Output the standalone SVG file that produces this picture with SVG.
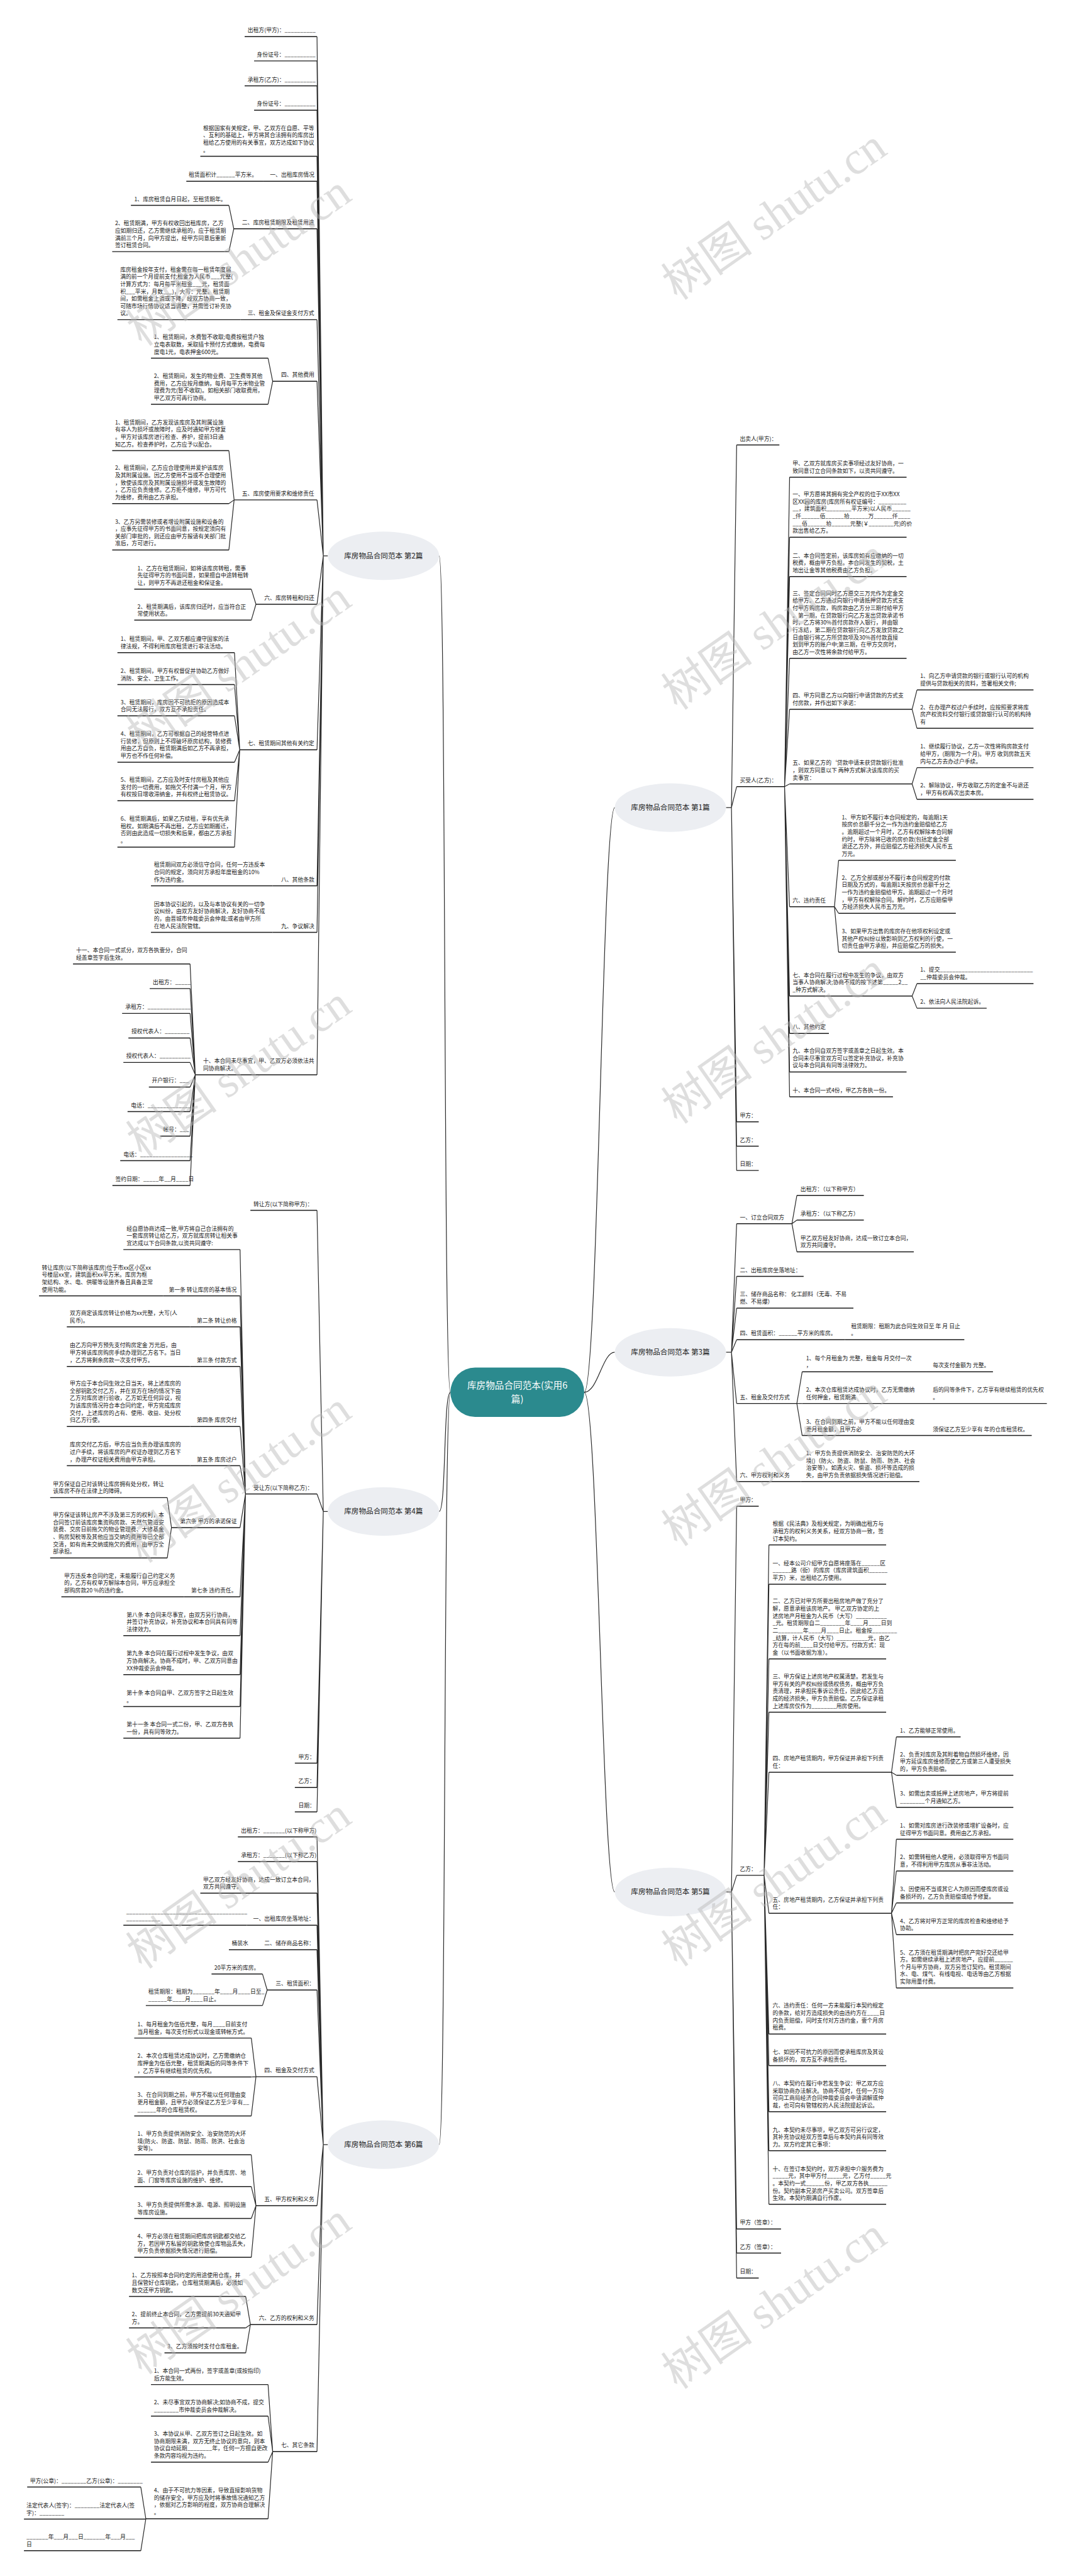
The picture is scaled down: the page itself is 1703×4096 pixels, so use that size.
<svg xmlns="http://www.w3.org/2000/svg" width="1703" height="4096" viewBox="0 0 1703 4096">
<style>
.t{font-family:"Noto Sans CJK SC","Noto Sans",sans-serif;font-size:13.3px;fill:#1a1a1a}
.u{stroke:#1a1a1a;stroke-width:2.2;fill:none}
.c{stroke:#2a2a2a;stroke-width:1.8;fill:none}
.l1{fill:#eceef2}
.l1t{font-family:"Noto Sans CJK SC","Noto Sans",sans-serif;font-size:17.5px;fill:#222;text-anchor:middle}
.root{fill:#2b8a8e}
.roott{font-family:"Noto Sans CJK SC","Noto Sans",sans-serif;font-size:22px;fill:#fff;text-anchor:middle}
.wm{font-family:"Liberation Serif","Noto Sans CJK SC",serif;font-size:110px;fill:#b8b8b8;opacity:.45}
</style>
<rect width="1703" height="4096" fill="#fff"/>
<g transform="scale(0.665)">
<g id="connectors">
<path class="c" d="M1077 3329C1060 3329 1067 1329 1050 1329M1077 3329C1060 3329 1067 3614 1050 3614M1077 3329C1060 3329 1067 5128 1050 5128M1397 3329C1430 3329 1440 1931 1470 1931M1397 3329C1430 3329 1440 3233.4 1470 3233.4M1397 3329C1430 3329 1440 4523.8 1470 4523.8"/>
<path class="c" d="M784 1329H773M773 1329L758 87.5M773 1329L758 145.7M773 1329L758 205.4M773 1329L758 263.6M773 1329L758 373.7M773 1329L758 433.4M773 1329L758 547M773 1329L758 764.5M773 1329L758 911.8M773 1329L758 1195.3M773 1329L758 1444.7M773 1329L758 1793M773 1329L758 2118M773 1329L758 2229.4M773 1329L758 2569.8"/>
<path class="c" d="M559 547L547.3 491M559 547L547.3 601.7M652 911.8L641 856.4M652 911.8L641 966.5M559.8 1195.3L547.3 1077.4M559.8 1195.3L547.3 1204.1M559.8 1195.3L547.3 1314.9M612 1444.7L600.9 1408.8M612 1444.7L600.9 1482.8"/>
<path class="c" d="M573.2 1793L560.7 1560.6M573.2 1793L560.7 1636.9M573.2 1793L560.7 1711.7M573.2 1793L560.7 1822.4M573.2 1793L560.7 1914.8M573.2 1793L560.7 2025.6"/>
<path class="c" d="M467 2569.8L454.5 2305M467 2569.8L454.5 2363.7M467 2569.8L454.5 2423.1M467 2569.8L454.5 2481.8M467 2569.8L454.5 2540.4M467 2569.8L454.5 2599.1M467 2569.8L454.5 2657.8M467 2569.8L454.5 2716.4M467 2569.8L454.5 2775.1M467 2569.8L454.5 2834.5"/>
<path class="c" d="M784 3614H773M773 3614L758 2894M773 3614L758 3572.2M773 3614L758 4215.7M773 3614L758 4274M773 3614L758 4332.3"/>
<path class="c" d="M587 3572.2L574 2987.8M587 3572.2L574 3098.6M587 3572.2L574 3172.6M587 3572.2L574 3267.2M587 3572.2L574 3410.8M587 3572.2L574 3504.6M587 3572.2L574 3652.5M587 3572.2L574 3818M587 3572.2L574 3911M587 3572.2L574 4004M587 3572.2L574 4080.5M587 3572.2L574 4156.1M410 3652.5L400 3581M410 3652.5L400 3725.2"/>
<path class="c" d="M784 5128H773M773 5128L758 4392.2M773 5128L758 4451M773 5128L758 4526.8M773 5128L758 4603.3M773 5128L758 4662M773 5128L758 4758.3M773 5128L758 4965.6M773 5128L758 5274.1M773 5128L758 5558.2M773 5128L758 5861.9"/>
<path class="c" d="M638.8 4758.3L627.7 4720M638.8 4758.3L627.7 4795.3M612 4965.6L600.9 4873.1M612 4965.6L600.9 4966.2M612 4965.6L600.9 5059.3M612 5274.1L600.9 5152.4M612 5274.1L600.9 5228.3M612 5274.1L600.9 5304.5M612 5274.1L600.9 5397.5M598.7 5558.2L587.5 5491.1M598.7 5558.2L587.5 5566.3M598.7 5558.2L587.5 5626M652 5861.9L641 5701.7M652 5861.9L641 5777M652 5861.9L641 5887.1M652 5861.9L641 6022.6M348.7 6022.6L336.7 5946.7M348.7 6022.6L348.3 6023.3M348.7 6022.6L336.7 6099"/>
<path class="c" d="M1736 1931H1749M1749 1931L1761.4 1063.8M1749 1931L1761.4 1880.9M1749 1931L1761.4 2682.4M1749 1931L1761.4 2740.5M1749 1931L1761.4 2798.7"/>
<path class="c" d="M1876 1880.9L1888 1141.1M1876 1880.9L1888 1284.6M1876 1880.9L1888 1378.7M1876 1880.9L1888 1574M1876 1880.9L1888 1696M1876 1880.9L1888 1874.5M1876 1880.9L1888 2167.9M1876 1880.9L1888 2381.6M1876 1880.9L1888 2471.2M1876 1880.9L1888 2563M1876 1880.9L1888 2622.7"/>
<path class="c" d="M2181 1696L2192.6 1649.7M2181 1696L2192.6 1741.4M2181 1874.5L2192.6 1835.5M2181 1874.5L2192.6 1911.2M1995.3 2167.9L2005.2 2057M1995.3 2167.9L2005.2 2183.8M1995.3 2167.9L2005.2 2276.8M2181 2381.6L2192.6 2351.8M2181 2381.6L2192.6 2410.7"/>
<path class="c" d="M1736 3233.4H1749M1749 3233.4L1761.4 2925.8M1749 3233.4L1761.4 3052M1749 3233.4L1761.4 3127.8M1749 3233.4L1761.4 3203.5M1749 3233.4L1761.4 3355.8M1749 3233.4L1761.4 3542.5M1893.7 2925.8L1905.4 2858.4M1893.7 2925.8L1905.4 2917.3M1893.7 2925.8L1905.4 2993.1M1905.4 3355.8L1918.1 3280M1905.4 3355.8L1918.1 3355.8M1905.4 3355.8L1918.1 3432.4"/>
<path class="c" d="M1736 4523.8H1749M1749 4523.8L1761.4 3601.5M1749 4523.8L1761.4 4484M1749 4523.8L1761.4 5329.8M1749 4523.8L1761.4 5387.2M1749 4523.8L1761.4 5447"/>
<path class="c" d="M1827 4484L1838.6 3694M1827 4484L1838.6 3788M1827 4484L1838.6 3966.6M1827 4484L1838.6 4094.1M1827 4484L1838.6 4237.6M1827 4484L1838.6 4574.8M1827 4484L1838.6 4863.4M1827 4484L1838.6 4939.2M1827 4484L1838.6 5049.2M1827 4484L1838.6 5142.4M1827 4484L1838.6 5270.8"/>
<path class="c" d="M2131.7 4237.6L2143.3 4153.1M2131.7 4237.6L2143.3 4244.8M2131.7 4237.6L2143.3 4321.3M2131.7 4574.8L2143.3 4397.9M2131.7 4574.8L2143.3 4473.6M2131.7 4574.8L2143.3 4550.1M2131.7 4574.8L2143.3 4625.8M2131.7 4574.8L2143.3 4753.4"/>
</g>

<g id="root"><rect class="root" x="1077" y="3270" width="320" height="118" rx="59"/><text class="roott" x="1237" y="3320">库房物品合同范本(实用6<tspan x="1237" dy="34">篇)</tspan></text></g>

<g id="L2"><ellipse class="l1" cx="917" cy="1329" rx="133" ry="58"/><text class="l1t" x="917" y="1335">库房物品合同范本 第2篇</text></g>
<g id="L4"><ellipse class="l1" cx="917" cy="3614" rx="133" ry="58"/><text class="l1t" x="917" y="3620">库房物品合同范本 第4篇</text></g>
<g id="L6"><ellipse class="l1" cx="917" cy="5128" rx="133" ry="58"/><text class="l1t" x="917" y="5134">库房物品合同范本 第6篇</text></g>
<g id="R1"><ellipse class="l1" cx="1603" cy="1931" rx="133" ry="58"/><text class="l1t" x="1603" y="1937">库房物品合同范本 第1篇</text></g>
<g id="R3"><ellipse class="l1" cx="1603" cy="3233.4" rx="133" ry="58"/><text class="l1t" x="1603" y="3239.4">库房物品合同范本 第3篇</text></g>
<g id="R5"><ellipse class="l1" cx="1603" cy="4523.8" rx="133" ry="58"/><text class="l1t" x="1603" y="4529.8">库房物品合同范本 第5篇</text></g>

<!-- 第2篇 -->
<g id="n1"><text class="t" x="592" y="77.1">出租方(甲方)：__________</text><path class="u" d="M585 87.5H758"/></g>
<g id="n2"><text class="t" x="614" y="135.3">身份证号：__________</text><path class="u" d="M607.6 145.7H758"/></g>
<g id="n3"><text class="t" x="592" y="195">承租方(乙方)：__________</text><path class="u" d="M585 205.4H758"/></g>
<g id="n4"><text class="t" x="614" y="253.2">身份证号：__________</text><path class="u" d="M607.6 263.6H758"/></g>
<g id="n5"><text class="t" x="485.7" y="310.8">根据国家有关规定，甲、乙双方在自愿、平等<tspan x="485.7" dy="17.5">、互利的基础上，甲方将其合法拥有的库房出</tspan><tspan x="485.7" dy="17.5">租给乙方使用的有关事宜，双方达成如下协议</tspan><tspan x="485.7" dy="17.5">。</tspan></text><path class="u" d="M479 373.7H758"/></g>
<g id="n6"><text class="t" x="645.5" y="423">一、出租库房情况</text><path class="u" d="M630 433.4H758"/></g>
<g id="n6a"><text class="t" x="451" y="423">租赁面积计______平方米。</text><path class="u" d="M445.5 433.4H630"/></g>
<g id="n7"><text class="t" x="578.6" y="536.6">二、库房租赁期限及租赁用途</text><path class="u" d="M559 547H758"/></g>
<g id="n7a"><text class="t" x="321" y="480.6">1、库房租赁自月日起，至租赁期年。</text><path class="u" d="M313 491H547.3"/></g>
<g id="n7b"><text class="t" x="275" y="538.8">2、租赁期满，甲方有权收回出租库房，乙方<tspan x="275" dy="17.5">应如期归还，乙方需继续承租的，应于租赁期</tspan><tspan x="275" dy="17.5">满前三个月，向甲方提出，经甲方同意后重新</tspan><tspan x="275" dy="17.5">签订租赁合同。</tspan></text><path class="u" d="M268.3 601.7H547.3"/></g>
<g id="n8"><text class="t" x="592" y="754.1">三、租金及保证金支付方式</text><path class="u" d="M575 764.5H758"/></g>
<g id="n8a"><text class="t" x="287.5" y="649.1">库房租金按年支付，租金需在每一租赁年度届<tspan x="287.5" dy="17.5">满的前一个月提前支付;租金为人民币___元整(</tspan><tspan x="287.5" dy="17.5">计算方式为：每月每平米租金___元，租赁面</tspan><tspan x="287.5" dy="17.5">积___平米，月数___)，大写：元整。租赁期</tspan><tspan x="287.5" dy="17.5">间，如需租金上调或下降，经双方协商一致，</tspan><tspan x="287.5" dy="17.5">可随市场行情协议适当调整，并需签订补充协</tspan><tspan x="287.5" dy="17.5">议。</tspan></text><path class="u" d="M280.8 764.5H575"/></g>
<g id="n9"><text class="t" x="672" y="901.4">四、其他费用</text><path class="u" d="M652 911.8H758"/></g>
<g id="n9a"><text class="t" x="368" y="811">1、租赁期间，水费暂不收取;电费按租赁户独<tspan x="368" dy="17.5">立电表取数，采取插卡预付方式缴纳，电费每</tspan><tspan x="368" dy="17.5">度电1元，电表押金600元。</tspan></text><path class="u" d="M361 856.4H641"/></g>
<g id="n9b"><text class="t" x="368" y="903.6">2、租赁期间，发生的物业费、卫生费等其他<tspan x="368" dy="17.5">费用，乙方应按月缴纳，每月每平方米物业管</tspan><tspan x="368" dy="17.5">理费为元(暂不收取)。如相关部门收取费用，</tspan><tspan x="368" dy="17.5">甲乙双方可再行协商。</tspan></text><path class="u" d="M361 966.5H641"/></g>
<g id="n10"><text class="t" x="578.6" y="1184.9">五、库房使用要求和维修责任</text><path class="u" d="M559.8 1195.3H758"/></g>
<g id="n10a"><text class="t" x="275" y="1014.5">1、租赁期间，乙方发现该库房及其附属设施<tspan x="275" dy="17.5">有非人为损坏或故障时，应及时通知甲方修复</tspan><tspan x="275" dy="17.5">。甲方对该库房进行检查、养护，提前3日通</tspan><tspan x="275" dy="17.5">知乙方。检查养护时，乙方应予以配合。</tspan></text><path class="u" d="M268.3 1077.4H547.3"/></g>
<g id="n10b"><text class="t" x="275" y="1123.7">2、租赁期间，乙方应合理使用并爱护该库房<tspan x="275" dy="17.5">及其附属设施。因乙方使用不当或不合理使用</tspan><tspan x="275" dy="17.5">，致使该库房及其附属设施损坏或发生故障的</tspan><tspan x="275" dy="17.5">，乙方应负责维修。乙方拒不维修，甲方可代</tspan><tspan x="275" dy="17.5">为维修，费用由乙方承担。</tspan></text><path class="u" d="M268.3 1204.1H547.3"/></g>
<g id="n10c"><text class="t" x="275" y="1252">3、乙方另需装修或者增设附属设施和设备的<tspan x="275" dy="17.5">，应事先征得甲方的书面同意，按规定须向有</tspan><tspan x="275" dy="17.5">关部门审批的，则还应由甲方报请有关部门批</tspan><tspan x="275" dy="17.5">准后，方可进行。</tspan></text><path class="u" d="M268.3 1314.9H547.3"/></g>
<g id="n11"><text class="t" x="632" y="1434.3">六、库房转租和归还</text><path class="u" d="M612 1444.7H758"/></g>
<g id="n11a"><text class="t" x="328.6" y="1363.4">1、乙方在租赁期间，如将该库房转租，需事<tspan x="328.6" dy="17.5">先征得甲方的书面同意，如果擅自中途转租转</tspan><tspan x="328.6" dy="17.5">让，则甲方不再退还租金和保证金。</tspan></text><path class="u" d="M321 1408.8H600.9"/></g>
<g id="n11b"><text class="t" x="328.6" y="1454.9">2、租赁期满后，该库房归还时，应当符合正<tspan x="328.6" dy="17.5">常使用状态。</tspan></text><path class="u" d="M321 1482.8H600.9"/></g>
<g id="n12"><text class="t" x="592" y="1782.6">七、租赁期间其他有关约定</text><path class="u" d="M573.2 1793H758"/></g>
<g id="n12a"><text class="t" x="288.4" y="1532.7">1、租赁期间，甲、乙双方都应遵守国家的法<tspan x="288.4" dy="17.5">律法规，不得利用库房租赁进行非法活动。</tspan></text><path class="u" d="M280.8 1560.6H560.7"/></g>
<g id="n12b"><text class="t" x="288.4" y="1609">2、租赁期间，甲方有权督促并协助乙方做好<tspan x="288.4" dy="17.5">消防、安全、卫生工作。</tspan></text><path class="u" d="M280.8 1636.9H560.7"/></g>
<g id="n12c"><text class="t" x="288.4" y="1683.8">3、租赁期间，库房因不可抗拒的原因造成本<tspan x="288.4" dy="17.5">合同无法履行，双方互不承担责任。</tspan></text><path class="u" d="M280.8 1711.7H560.7"/></g>
<g id="n12d"><text class="t" x="288.4" y="1759.5">4、租赁期间，乙方可根据自己的经营特点进<tspan x="288.4" dy="17.5">行装修，但原则上不得破坏原房结构，装修费</tspan><tspan x="288.4" dy="17.5">用由乙方自负，租赁期满后如乙方不再承担，</tspan><tspan x="288.4" dy="17.5">甲方也不作任何补偿。</tspan></text><path class="u" d="M280.8 1822.4H560.7"/></g>
<g id="n12e"><text class="t" x="288.4" y="1869.4">5、租赁期间，乙方应及时支付房租及其他应<tspan x="288.4" dy="17.5">支付的一切费用，如拖欠不付满一个月，甲方</tspan><tspan x="288.4" dy="17.5">有权按日增收滞纳金，并有权终止租赁协议。</tspan></text><path class="u" d="M280.8 1914.8H560.7"/></g>
<g id="n12f"><text class="t" x="288.4" y="1962.7">6、租赁期满后，如果乙方续租，享有优先承<tspan x="288.4" dy="17.5">租权。如期满后不再出租，乙方应如期搬迁，</tspan><tspan x="288.4" dy="17.5">否则由此造成一切损失和后果，都由乙方承担</tspan><tspan x="288.4" dy="17.5">。</tspan></text><path class="u" d="M280.8 2025.6H560.7"/></g>
<g id="n13"><text class="t" x="672" y="2107.6">八、其他条款</text><path class="u" d="M652 2118H758"/></g>
<g id="n13a"><text class="t" x="368" y="2072.6">租赁期间双方必须信守合同，任何一方违反本<tspan x="368" dy="17.5">合同的规定，须向对方承担年度租金的10%</tspan><tspan x="368" dy="17.5">作为违约金。</tspan></text><path class="u" d="M361 2118H652"/></g>
<g id="n14"><text class="t" x="672" y="2219">九、争议解决</text><path class="u" d="M652 2229.4H758"/></g>
<g id="n14a"><text class="t" x="368" y="2166.5">因本协议引起的，以及与本协议有关的一切争<tspan x="368" dy="17.5">议纠纷，由双方友好协商解决，友好协商不成</tspan><tspan x="368" dy="17.5">的，由晋城市仲裁委员会仲裁;或者由甲方所</tspan><tspan x="368" dy="17.5">在地人民法院管辖。</tspan></text><path class="u" d="M361 2229.4H652"/></g>
<g id="n15"><text class="t" x="485.7" y="2541.9">十、本合同未尽事宜，甲、乙双方必须依法共<tspan x="485.7" dy="17.5">同协商解决。</tspan></text><path class="u" d="M467 2569.8H758"/></g>
<g id="n15a"><text class="t" x="182" y="2277.1">十一、本合同一式贰分，双方各执壹分，合同<tspan x="182" dy="17.5">经盖章签字后生效。</tspan></text><path class="u" d="M174.6 2305H454.5"/></g>
<g id="n15b"><text class="t" x="365.6" y="2353.3">出租方：_____</text><path class="u" d="M358 2363.7H454.5"/></g>
<g id="n15c"><text class="t" x="299.5" y="2412.7">承租方：______________</text><path class="u" d="M292 2423.1H454.5"/></g>
<g id="n15d"><text class="t" x="314.3" y="2471.4">授权代表人：________</text><path class="u" d="M307 2481.8H454.5"/></g>
<g id="n15e"><text class="t" x="301.8" y="2530">授权代表人：__________</text><path class="u" d="M295 2540.4H454.5"/></g>
<g id="n15f"><text class="t" x="363" y="2588.7">开户银行：___</text><path class="u" d="M356 2599.1H454.5"/></g>
<g id="n15g"><text class="t" x="313" y="2647.4">电话：______________</text><path class="u" d="M305 2657.8H454.5"/></g>
<g id="n15h"><text class="t" x="390" y="2706">帐号：___</text><path class="u" d="M383 2716.4H454.5"/></g>
<g id="n15i"><text class="t" x="295" y="2764.7">电话：_________________</text><path class="u" d="M287.5 2775.1H454.5"/></g>
<g id="n15j"><text class="t" x="276" y="2824.1">签约日期：_____年__月____日</text><path class="u" d="M268.8 2834.5H454.5"/></g>

<!-- 第4篇 -->
<g id="m1"><text class="t" x="606" y="2883.6">转让方(以下简称甲方)：</text><path class="u" d="M598.7 2894H758"/></g>
<g id="m2"><text class="t" x="606" y="3561.8">受让方(以下简称乙方)：</text><path class="u" d="M587 3572.2H758"/></g>
<g id="m2a"><text class="t" x="302.7" y="2942.4">经自愿协商达成一致,甲方将自己合法拥有的<tspan x="302.7" dy="17.5">一套库房转让给乙方，双方就库房转让相关事</tspan><tspan x="302.7" dy="17.5">宜达成以下合同条款,以资共同遵守:</tspan></text><path class="u" d="M295 2987.8H574"/></g>
<g id="m2b"><text class="t" x="403.6" y="3088.2">第一条 转让库房的基本情况</text><path class="u" d="M390 3098.6H574"/></g>
<g id="m2b1"><text class="t" x="100" y="3035.7">转让库房(以下简称该库房)位于市xx区小区xx<tspan x="100" dy="17.5">号楼层xx室，建筑面积xx平方米。库房为框</tspan><tspan x="100" dy="17.5">架结构、水、电、供暖等设施齐备且具备正常</tspan><tspan x="100" dy="17.5">使用功能。</tspan></text><path class="u" d="M93.3 3098.6H390"/></g>
<g id="m2c"><text class="t" x="470.5" y="3162.2">第二条 转让价格</text><path class="u" d="M455 3172.6H574"/></g>
<g id="m2c1"><text class="t" x="167" y="3144.7">双方商定该库房转让价格为xx元整，大写(人<tspan x="167" dy="17.5">民币)。</tspan></text><path class="u" d="M159.8 3172.6H455"/></g>
<g id="m2d"><text class="t" x="470.5" y="3256.8">第三条 付款方式</text><path class="u" d="M455 3267.2H574"/></g>
<g id="m2d1"><text class="t" x="167" y="3221.8">由乙方向甲方预先支付购房定金 万元后，由<tspan x="167" dy="17.5">甲方将该库房购房手续办理到乙方名下。当日</tspan><tspan x="167" dy="17.5">，乙方将剩余房款一次支付甲方。</tspan></text><path class="u" d="M159.8 3267.2H455"/></g>
<g id="m2e"><text class="t" x="470.5" y="3400.4">第四条 库房交付</text><path class="u" d="M455 3410.8H574"/></g>
<g id="m2e1"><text class="t" x="167" y="3312.9">甲方应于本合同生效之日当天，将上述库房的<tspan x="167" dy="17.5">全部钥匙交付乙方，并在双方在场的情况下由</tspan><tspan x="167" dy="17.5">乙方对库房进行验收，乙方如无任何异议，视</tspan><tspan x="167" dy="17.5">为该库房情况符合本合同约定，甲方完成库房</tspan><tspan x="167" dy="17.5">交付，上述库房的占有、使用、收益、处分权</tspan><tspan x="167" dy="17.5">归乙方行使。</tspan></text><path class="u" d="M159.8 3410.8H455"/></g>
<g id="m2f"><text class="t" x="470.5" y="3494.2">第五条 库房过户</text><path class="u" d="M455 3504.6H574"/></g>
<g id="m2f1"><text class="t" x="167" y="3459.2">库房交付乙方后，甲方应当负责办理该库房的<tspan x="167" dy="17.5">过户手续，将该库房的产权证办理到乙方名下</tspan><tspan x="167" dy="17.5">，办理产权证相关费用由甲方承担。</tspan></text><path class="u" d="M159.8 3504.6H455"/></g>
<g id="m2g"><text class="t" x="430.4" y="3642.1">第六条 甲方的承诺保证</text><path class="u" d="M410 3652.5H574"/></g>
<g id="m2g1"><text class="t" x="126.7" y="3553.1">甲方保证自己对该转让库房拥有处分权，转让<tspan x="126.7" dy="17.5">该库房不存在法律上的障碍。</tspan></text><path class="u" d="M120 3581H400"/></g>
<g id="m2g2"><text class="t" x="126.7" y="3627.3">甲方保证该转让房产不涉及第三方的权利，本<tspan x="126.7" dy="17.5">合同签订前该库房集资购房款、天然气管道安</tspan><tspan x="126.7" dy="17.5">装费、交房日前拖欠的物业管理费、大修基金</tspan><tspan x="126.7" dy="17.5">、购房契税等及其他应当交纳的费用等已全部</tspan><tspan x="126.7" dy="17.5">交清，如有尚未交纳或拖欠的费用，由甲方全</tspan><tspan x="126.7" dy="17.5">部承担。</tspan></text><path class="u" d="M120 3725.2H400"/></g>
<g id="m2h"><text class="t" x="457" y="3807.6">第七条 违约责任。</text><path class="u" d="M440 3818H574"/></g>
<g id="m2h1"><text class="t" x="153.3" y="3772.6">甲方违反本合同约定，未能履行自己约定义务<tspan x="153.3" dy="17.5">的，乙方有权单方解除本合同，甲方应承担全</tspan><tspan x="153.3" dy="17.5">部购房款20 %的违约金。</tspan></text><path class="u" d="M146.7 3818H440"/></g>
<g id="m2i"><text class="t" x="302.7" y="3865.6">第八条 本合同未尽事宜，由双方另行协商，<tspan x="302.7" dy="17.5">并签订补充协议，补充协议和本合同具有同等</tspan><tspan x="302.7" dy="17.5">法律效力。</tspan></text><path class="u" d="M295 3911H574"/></g>
<g id="m2j"><text class="t" x="302.7" y="3958.6">第九条 本合同在履行过程中发生争议，由双<tspan x="302.7" dy="17.5">方协商解决。协商不成时，甲、乙双方同意由</tspan><tspan x="302.7" dy="17.5">XX仲裁委员会仲裁。</tspan></text><path class="u" d="M295 4004H574"/></g>
<g id="m2k"><text class="t" x="302.7" y="4052.6">第十条 本合同自甲、乙双方签字之日起生效<tspan x="302.7" dy="17.5">。</tspan></text><path class="u" d="M295 4080.5H574"/></g>
<g id="m2l"><text class="t" x="302.7" y="4128.2">第十一条 本合同一式二份，甲、乙双方各执<tspan x="302.7" dy="17.5">一份，具有同等效力。</tspan></text><path class="u" d="M295 4156.1H574"/></g>
<g id="m3"><text class="t" x="713.4" y="4205.3">甲方：</text><path class="u" d="M705 4215.7H758"/></g>
<g id="m4"><text class="t" x="713.4" y="4263.6">乙方：</text><path class="u" d="M705 4274H758"/></g>
<g id="m5"><text class="t" x="713.4" y="4321.9">日期：</text><path class="u" d="M705 4332.3H758"/></g>

<!-- 第6篇 -->
<g id="k1"><text class="t" x="576.3" y="4381.8">出租方：_______(以下称甲方)</text><path class="u" d="M568.8 4392.2H758"/></g>
<g id="k2"><text class="t" x="576.3" y="4440.6">承租方：_______(以下称乙方)</text><path class="u" d="M568.8 4451H758"/></g>
<g id="k3"><text class="t" x="485.7" y="4498.9">甲乙双方经友好协商，达成一致订立本合同，<tspan x="485.7" dy="17.5">双方共同遵守。</tspan></text><path class="u" d="M479 4526.8H758"/></g>
<g id="k4"><text class="t" x="605.4" y="4592.9">一、出租库房坐落地址：</text><path class="u" d="M590 4603.3H758"/></g>
<g id="k4a"><text class="t" x="301.8" y="4575.4">_______________________________________<tspan x="301.8" dy="17.5">___________</tspan></text><path class="u" d="M295 4603.3H590"/></g>
<g id="k5"><text class="t" x="632" y="4651.6">二、储存商品名称：</text><path class="u" d="M615 4662H758"/></g>
<g id="k5a"><text class="t" x="554" y="4651.6">桶装水</text><path class="u" d="M547.3 4662H615"/></g>
<g id="k6"><text class="t" x="659" y="4747.9">三、租赁面积：</text><path class="u" d="M638.8 4758.3H758"/></g>
<g id="k6a"><text class="t" x="512.5" y="4709.6">20平方米的库房。</text><path class="u" d="M505.8 4720H627.7"/></g>
<g id="k6b"><text class="t" x="354.5" y="4767.4">租赁期限：租期为_______年____月____日至_<tspan x="354.5" dy="17.5">______年____月____日止。</tspan></text><path class="u" d="M348.7 4795.3H627.7"/></g>
<g id="k7"><text class="t" x="632" y="4955.2">四、租金及交付方式</text><path class="u" d="M612 4965.6H758"/></g>
<g id="k7a"><text class="t" x="328.6" y="4845.2">1、每月租金为伍佰元整，每月____日前支付<tspan x="328.6" dy="17.5">当月租金，每次支付形式以现金或转帐方式。</tspan></text><path class="u" d="M321 4873.1H600.9"/></g>
<g id="k7b"><text class="t" x="328.6" y="4920.8">2、本次仓库租赁达成协议时，乙方需缴纳仓<tspan x="328.6" dy="17.5">库押金为伍佰元整，租赁期满后的同等条件下</tspan><tspan x="328.6" dy="17.5">，乙方享有继续租赁的优先权。</tspan></text><path class="u" d="M321 4966.2H600.9"/></g>
<g id="k7c"><text class="t" x="328.6" y="5013.9">3、在合同到期之前，甲方不能以任何理由变<tspan x="328.6" dy="17.5">更月租金额，且甲方必须保证乙方至少享有__</tspan><tspan x="328.6" dy="17.5">______年的仓库租赁权。</tspan></text><path class="u" d="M321 5059.3H600.9"/></g>
<g id="k8"><text class="t" x="632" y="5263.7">五、甲方权利和义务</text><path class="u" d="M612 5274.1H758"/></g>
<g id="k8a"><text class="t" x="328.6" y="5107">1、甲方负责提供消防安全、治安防范的大环<tspan x="328.6" dy="17.5">境(防火、防盗、防鼠、防雨、防洪、社会治</tspan><tspan x="328.6" dy="17.5">安等)。</tspan></text><path class="u" d="M321 5152.4H600.9"/></g>
<g id="k8b"><text class="t" x="328.6" y="5200.4">2、甲方负责对仓库的监护，并负责库房、地<tspan x="328.6" dy="17.5">面、门窗等库房设施的维护、维修。</tspan></text><path class="u" d="M321 5228.3H600.9"/></g>
<g id="k8c"><text class="t" x="328.6" y="5276.6">3、甲方负责提供所需水源、电源、照明设施<tspan x="328.6" dy="17.5">等库房设施。</tspan></text><path class="u" d="M321 5304.5H600.9"/></g>
<g id="k8d"><text class="t" x="328.6" y="5352.1">4、甲方必须在租赁期间把库房钥匙都交给乙<tspan x="328.6" dy="17.5">方，若因甲方私留的钥匙致使仓库物品丢失，</tspan><tspan x="328.6" dy="17.5">甲方负责依据损失情况进行赔偿。</tspan></text><path class="u" d="M321 5397.5H600.9"/></g>
<g id="k9"><text class="t" x="618.8" y="5547.8">六、乙方的权利和义务</text><path class="u" d="M598.7 5558.2H758"/></g>
<g id="k9a"><text class="t" x="315.2" y="5445.7">1、乙方按照本合同约定的用途使用仓库，并<tspan x="315.2" dy="17.5">且保管好仓库钥匙，仓库租赁期满后，必须如</tspan><tspan x="315.2" dy="17.5">数交还甲方钥匙。</tspan></text><path class="u" d="M308.5 5491.1H587.5"/></g>
<g id="k9b"><text class="t" x="315.2" y="5538.4">2、提前终止本合同，乙方需提前30天通知甲<tspan x="315.2" dy="17.5">方。</tspan></text><path class="u" d="M308.5 5566.3H587.5"/></g>
<g id="k9c"><text class="t" x="400" y="5615.6">3、乙方须按时支付仓库租金。</text><path class="u" d="M393.3 5626H587.5"/></g>
<g id="k10"><text class="t" x="672" y="5851.5">七、其它条款</text><path class="u" d="M652 5861.9H758"/></g>
<g id="k10a"><text class="t" x="368" y="5673.8">1、本合同一式两份，签字或盖章(或按指印)<tspan x="368" dy="17.5">后方能生效。</tspan></text><path class="u" d="M361 5701.7H641"/></g>
<g id="k10b"><text class="t" x="368" y="5749.1">2、未尽事宜双方协商解决;如协商不成，提交<tspan x="368" dy="17.5">________市仲裁委员会仲裁解决。</tspan></text><path class="u" d="M361 5777H641"/></g>
<g id="k10c"><text class="t" x="368" y="5824.2">3、本协议从甲、乙双方签订之日起生效。如<tspan x="368" dy="17.5">协商期限未满，双方无终止协议的意向，则本</tspan><tspan x="368" dy="17.5">协议自动延期________年，任何一方擅自更改</tspan><tspan x="368" dy="17.5">条款内容均视为违约。</tspan></text><path class="u" d="M361 5887.1H641"/></g>
<g id="k10d"><text class="t" x="368" y="5959.7">4、由于不可抗力等因素，导致直接影响货物<tspan x="368" dy="17.5">的储存安全，甲方应及时将事故情况通知乙方</tspan><tspan x="368" dy="17.5">，依据对乙方影响的程度，双方协商合理解决</tspan><tspan x="368" dy="17.5">。</tspan></text><path class="u" d="M348.7 6022.6H641"/></g>
<g id="k10d1"><text class="t" x="71.7" y="5936.3">甲方(公章)：________乙方(公章)：________</text><path class="u" d="M65 5946.7H336.7"/></g>
<g id="k10d2"><text class="t" x="63.3" y="5995.4">法定代表人(签字)：________法定代表人(签<tspan x="63.3" dy="17.5">字)：________</tspan></text><path class="u" d="M57.3 6023.3H348.3"/></g>
<g id="k10d3"><text class="t" x="63.3" y="6071.1">_______年___月___日_______年___月___<tspan x="63.3" dy="17.5">日</tspan></text><path class="u" d="M57.3 6099H336.7"/></g>

<!-- 第1篇 -->
<g id="r1"><text class="t" x="1769" y="1053.4">出卖人(甲方)：</text><path class="u" d="M1761.4 1063.8H1863.6"/></g>
<g id="r2"><text class="t" x="1769" y="1870.5">买受人(乙方)：</text><path class="u" d="M1761.4 1880.9H1876"/></g>
<g id="r2a"><text class="t" x="1895" y="1113.2">甲、乙双方就库房买卖事项经过友好协商，一<tspan x="1895" dy="17.5">致同意订立合同条款如下，以资共同遵守。</tspan></text><path class="u" d="M1888 1141.1H2167.7"/></g>
<g id="r2b"><text class="t" x="1895" y="1186.7">一、甲方愿将其拥有完全产权的位于XX市XX<tspan x="1895" dy="17.5">区XX园的库房(库房所有权证编号：_________</tspan><tspan x="1895" dy="17.5">__，建筑面积________平方米)以人民币______</tspan><tspan x="1895" dy="17.5">_仟______佰______拾______万______仟____</tspan><tspan x="1895" dy="17.5">___佰______拾______元整(￥________元)的价</tspan><tspan x="1895" dy="17.5">款出售给乙方。</tspan></text><path class="u" d="M1888 1284.6H2167.7"/></g>
<g id="r2c"><text class="t" x="1895" y="1333.3">二、本合同签定前，该库房如有应缴纳的一切<tspan x="1895" dy="17.5">税费，概由甲方负担。本合同发生的契税，土</tspan><tspan x="1895" dy="17.5">地出让金等其他税费由乙方负担。</tspan></text><path class="u" d="M1888 1378.7H2167.7"/></g>
<g id="r2d"><text class="t" x="1895" y="1423.6">三、签定合同同时乙方愿交三万元作为定金交<tspan x="1895" dy="17.5">给甲方。乙方通过向银行申请抵押贷款方式支</tspan><tspan x="1895" dy="17.5">付甲方购房款，购房款由乙方分三期付给甲方</tspan><tspan x="1895" dy="17.5">。第一期，在贷款银行向乙方发出贷款承诺书</tspan><tspan x="1895" dy="17.5">时，乙方将30%首付房款存入银行，并由银</tspan><tspan x="1895" dy="17.5">行冻结，第二期在贷款银行向乙方发放贷款之</tspan><tspan x="1895" dy="17.5">日由银行将乙方所贷款项及30%首付款直接</tspan><tspan x="1895" dy="17.5">划到甲方的账户中;第三期，在甲方交房时，</tspan><tspan x="1895" dy="17.5">由乙方一次性将余款付给甲方。</tspan></text><path class="u" d="M1888 1574H2167.7"/></g>
<g id="r2e"><text class="t" x="1895" y="1668.1">四、甲方同意乙方以向银行申请贷款的方式支<tspan x="1895" dy="17.5">付房款，并作出如下承诺：</tspan></text><path class="u" d="M1888 1696H2181"/></g>
<g id="r2e1"><text class="t" x="2200.2" y="1621.8">1、向乙方申请贷款的银行或银行认可的机构<tspan x="2200.2" dy="17.5">提供与贷款相关的资料，签署相关文件;</tspan></text><path class="u" d="M2192.6 1649.7H2471.2"/></g>
<g id="r2e2"><text class="t" x="2200.2" y="1696">2、在办理产权过户手续时，应按照要求将库<tspan x="2200.2" dy="17.5">房产权资料交付银行或贷款银行认可的机构持</tspan><tspan x="2200.2" dy="17.5">有</tspan></text><path class="u" d="M2192.6 1741.4H2471.2"/></g>
<g id="r2f"><text class="t" x="1895" y="1829.1">五、如果乙方的‘贷款申请未获贷款银行批准<tspan x="1895" dy="17.5">，则双方同意以下 两种方式解决该库房的买</tspan><tspan x="1895" dy="17.5">卖事宜：</tspan></text><path class="u" d="M1888 1874.5H2181"/></g>
<g id="r2f1"><text class="t" x="2200.2" y="1790.1">1、继续履行协议，乙方一次性将购房款支付<tspan x="2200.2" dy="17.5">给甲方，(期限为一个月)。甲方 收到房款五天</tspan><tspan x="2200.2" dy="17.5">内与乙方去办过户手续。</tspan></text><path class="u" d="M2192.6 1835.5H2471.2"/></g>
<g id="r2f2"><text class="t" x="2200.2" y="1883.3">2、解除协议，甲方收取乙方的定金不与退还<tspan x="2200.2" dy="17.5">，甲方有权再次出卖本房。</tspan></text><path class="u" d="M2192.6 1911.2H2471.2"/></g>
<g id="r2g"><text class="t" x="1895" y="2157.5">六、违约责任</text><path class="u" d="M1888 2167.9H1995.3"/></g>
<g id="r2g1"><text class="t" x="2012.7" y="1959.1">1、甲方如不履行本合同规定的，每逾期1天<tspan x="2012.7" dy="17.5">按房价总额千分之一作为违约金赔偿给乙方</tspan><tspan x="2012.7" dy="17.5">。逾期超过一个月时，乙方有权解除本合同解</tspan><tspan x="2012.7" dy="17.5">约时，甲方除将已收的房价款(包括定金全部</tspan><tspan x="2012.7" dy="17.5">退还乙方外，并应赔偿乙方经济损失人民币五</tspan><tspan x="2012.7" dy="17.5">万元。</tspan></text><path class="u" d="M2005.2 2057H2285.5"/></g>
<g id="r2g2"><text class="t" x="2012.7" y="2103.4">2、乙方全部或部分不履行本合同规定的付款<tspan x="2012.7" dy="17.5">日期及方式的，每逾期1天按房价总额千分之</tspan><tspan x="2012.7" dy="17.5">一作为违约金赔偿给甲方。逾期超过一个月时</tspan><tspan x="2012.7" dy="17.5">，甲方有权解除合同。解约时，乙方应赔偿甲</tspan><tspan x="2012.7" dy="17.5">方经济损失人民币五万元。</tspan></text><path class="u" d="M2005.2 2183.8H2285.5"/></g>
<g id="r2g3"><text class="t" x="2012.7" y="2231.4">3、如果甲方出售的库房存在他项权利设定或<tspan x="2012.7" dy="17.5">其他产权纠纷以致影响到乙方权利的行使，一</tspan><tspan x="2012.7" dy="17.5">切责任由甲方承担，并应赔偿乙方的损失。</tspan></text><path class="u" d="M2005.2 2276.8H2285.5"/></g>
<g id="r2h"><text class="t" x="1895" y="2336.2">七、本合同在履行过程中发生的争议，由双方<tspan x="1895" dy="17.5">当事人协商解决;协商不成的按下述第_____2__</tspan><tspan x="1895" dy="17.5">_种方式解决。</tspan></text><path class="u" d="M1888 2381.6H2181"/></g>
<g id="r2h1"><text class="t" x="2200.2" y="2323.9">1、提交______________________________<tspan x="2200.2" dy="17.5">__仲裁委员会仲裁。</tspan></text><path class="u" d="M2192.6 2351.8H2471.2"/></g>
<g id="r2h2"><text class="t" x="2200.2" y="2400.3">2、依法向人民法院起诉。</text><path class="u" d="M2192.6 2410.7H2359.2"/></g>
<g id="r2i"><text class="t" x="1895" y="2460.8">八、其他约定</text><path class="u" d="M1888 2471.2H1982"/></g>
<g id="r2j"><text class="t" x="1895" y="2517.6">九、本合同自双方签字或盖章之日起生效。本<tspan x="1895" dy="17.5">合同未尽事宜双方可以签定补充协议，补充协</tspan><tspan x="1895" dy="17.5">议与本合同具有同等法律效力。</tspan></text><path class="u" d="M1888 2563H2167.7"/></g>
<g id="r2k"><text class="t" x="1895" y="2612.3">十、本合同一式4份，甲乙方各执一份。</text><path class="u" d="M1888 2622.7H2135.2"/></g>
<g id="r3"><text class="t" x="1769" y="2672">甲方：</text><path class="u" d="M1761.4 2682.4H1814.2"/></g>
<g id="r4"><text class="t" x="1769" y="2730.1">乙方：</text><path class="u" d="M1761.4 2740.5H1814.2"/></g>
<g id="r5"><text class="t" x="1769" y="2788.3">日期：</text><path class="u" d="M1761.4 2798.7H1814.2"/></g>

<!-- 第3篇 -->
<g id="s1"><text class="t" x="1769" y="2915.4">一、订立合同双方</text><path class="u" d="M1761.4 2925.8H1893.7"/></g>
<g id="s1a"><text class="t" x="1914" y="2848">出租方：（以下称甲方）</text><path class="u" d="M1905.4 2858.4H2065.5"/></g>
<g id="s1b"><text class="t" x="1914" y="2906.9">承租方：（以下称乙方）</text><path class="u" d="M1905.4 2917.3H2065.5"/></g>
<g id="s1c"><text class="t" x="1914" y="2965.2">甲乙双方经友好协商，达成一致订立本合同，<tspan x="1914" dy="17.5">双方共同遵守。</tspan></text><path class="u" d="M1905.4 2993.1H2185"/></g>
<g id="s2"><text class="t" x="1769" y="3041.6">二、出租库房坐落地址：</text><path class="u" d="M1761.4 3052H1921.6"/></g>
<g id="s3"><text class="t" x="1769" y="3099.9">三、储存商品名称： 化工颜料（无毒、不易<tspan x="1769" dy="17.5">燃、不易爆）</tspan></text><path class="u" d="M1761.4 3127.8H2040.6"/></g>
<g id="s4"><text class="t" x="1769" y="3193.1">四、租赁面积：______平方米的库房。</text><path class="u" d="M1761.4 3203.5H2020"/></g>
<g id="s4a"><text class="t" x="2034.8" y="3175.6">租赁期限：租期为此合同生效日至 年 月 日止<tspan x="2034.8" dy="17.5">。</tspan></text><path class="u" d="M2020 3203.5H2305.8"/></g>
<g id="s5"><text class="t" x="1769" y="3345.4">五、租金及交付方式</text><path class="u" d="M1761.4 3355.8H1905.4"/></g>
<g id="s5a"><text class="t" x="1927.4" y="3252.1">1、每个月租金为 元整，租金每 月交付一次<tspan x="1927.4" dy="17.5">，</tspan></text><path class="u" d="M1918.1 3280H2215"/></g>
<g id="s5a1"><text class="t" x="2230.3" y="3269.6">每次支付金额为 元整。</text><path class="u" d="M2215 3280H2374.3"/></g>
<g id="s5b"><text class="t" x="1927.4" y="3327.9">2、本次仓库租赁达成协议时，乙方无需缴纳<tspan x="1927.4" dy="17.5">任何押金，租赁期满</tspan></text><path class="u" d="M1918.1 3355.8H2215"/></g>
<g id="s5b1"><text class="t" x="2230.3" y="3327.9">后的同等条件下，乙方享有继续租赁的优先权<tspan x="2230.3" dy="17.5">。</tspan></text><path class="u" d="M2215 3355.8H2503.1"/></g>
<g id="s5c"><text class="t" x="1927.4" y="3404.5">3、在合同到期之前，甲方不能以任何理由变<tspan x="1927.4" dy="17.5">更月租金额，且甲方必</tspan></text><path class="u" d="M1918.1 3432.4H2215"/></g>
<g id="s5c1"><text class="t" x="2230.3" y="3422">须保证乙方至少享有 年的仓库租赁权。</text><path class="u" d="M2215 3432.4H2467"/></g>
<g id="s6"><text class="t" x="1769" y="3532.1">六、甲方权利和义务</text><path class="u" d="M1761.4 3542.5H1915"/></g>
<g id="s6a"><text class="t" x="1927.4" y="3479.6">1、甲方负责提供消防安全、治安防范的大环<tspan x="1927.4" dy="17.5">境()（防火、防盗、防鼠、防雨、防洪、社会</tspan><tspan x="1927.4" dy="17.5">治安等）。如遇火灾、偷盗、损坏等造成的损</tspan><tspan x="1927.4" dy="17.5">失，由甲方负责依据损失情况进行赔偿。</tspan></text><path class="u" d="M1915 3542.5H2198.4"/></g>

<!-- 第5篇 -->
<g id="t1"><text class="t" x="1769" y="3591.1">甲方：</text><path class="u" d="M1761.4 3601.5H1814.2"/></g>
<g id="t2"><text class="t" x="1769" y="4473.6">乙方：</text><path class="u" d="M1761.4 4484H1827"/></g>
<g id="t2a"><text class="t" x="1847.3" y="3648.6">根据《民法典》及相关规定，为明确出租方与<tspan x="1847.3" dy="17.5">承租方的权利义务关系，经双方协商一致，签</tspan><tspan x="1847.3" dy="17.5">订本契约。</tspan></text><path class="u" d="M1838.6 3694H2118.9"/></g>
<g id="t2b"><text class="t" x="1847.3" y="3742.6">一、经本公司介绍甲方自愿将座落在______区<tspan x="1847.3" dy="17.5">______路（街）的库房（库房建筑面积______</tspan><tspan x="1847.3" dy="17.5">平方）米，出租给乙方使用。</tspan></text><path class="u" d="M1838.6 3788H2118.9"/></g>
<g id="t2c"><text class="t" x="1847.3" y="3833.7">二、乙方已对甲方所要出租房地产做了充分了<tspan x="1847.3" dy="17.5">解，愿意承租该房地产。 甲乙双方协定的上</tspan><tspan x="1847.3" dy="17.5">述房地产月租金为人民币（大写）__________</tspan><tspan x="1847.3" dy="17.5">_元。租赁期限自二________年____月____日到</tspan><tspan x="1847.3" dy="17.5">二________年____月____日止。租金按________</tspan><tspan x="1847.3" dy="17.5">_结算，计人民币（大写）__________元，由乙</tspan><tspan x="1847.3" dy="17.5">方在每的前____日交付给甲方。付款方式：现</tspan><tspan x="1847.3" dy="17.5">金（以书面收据为准）。</tspan></text><path class="u" d="M1838.6 3966.6H2118.9"/></g>
<g id="t2d"><text class="t" x="1847.3" y="4013.7">三、甲方保证上述房地产权属清楚。若发生与<tspan x="1847.3" dy="17.5">甲方有关的产权纠纷或债权债务，概由甲方负</tspan><tspan x="1847.3" dy="17.5">责清理，并承担民事诉讼责任，因此给乙方造</tspan><tspan x="1847.3" dy="17.5">成的经济损失，甲方负责赔偿。乙方保证承租</tspan><tspan x="1847.3" dy="17.5">上述库房仅作为________用房使用。</tspan></text><path class="u" d="M1838.6 4094.1H2118.9"/></g>
<g id="t2e"><text class="t" x="1847.3" y="4209.7">四、房地产租赁期内，甲方保证并承担下列责<tspan x="1847.3" dy="17.5">任：</tspan></text><path class="u" d="M1838.6 4237.6H2131.7"/></g>
<g id="t2e1"><text class="t" x="2152" y="4142.7">1、乙方能够正常使用。</text><path class="u" d="M2143.3 4153.1H2297"/></g>
<g id="t2e2"><text class="t" x="2152" y="4199.4">2、负责对库房及其附着物自然损坏维修，因<tspan x="2152" dy="17.5">甲方延误库房维修而使乙方或第三人遭受损失</tspan><tspan x="2152" dy="17.5">的，甲方负责赔偿。</tspan></text><path class="u" d="M2143.3 4244.8H2423"/></g>
<g id="t2e3"><text class="t" x="2152" y="4293.4">3、如需出卖或抵押上述房地产，甲方将提前<tspan x="2152" dy="17.5">________个月通知乙方。</tspan></text><path class="u" d="M2143.3 4321.3H2423"/></g>
<g id="t2f"><text class="t" x="1847.3" y="4546.9">五、房地产租赁期内，乙方保证并承担下列责<tspan x="1847.3" dy="17.5">任：</tspan></text><path class="u" d="M1838.6 4574.8H2131.7"/></g>
<g id="t2f1"><text class="t" x="2152" y="4370">1、如需对库房进行改装修或增扩设备时，应<tspan x="2152" dy="17.5">征得甲方书面同意。费用由乙方承担。</tspan></text><path class="u" d="M2143.3 4397.9H2423"/></g>
<g id="t2f2"><text class="t" x="2152" y="4445.7">2、如需转租他人使用，必须取得甲方书面同<tspan x="2152" dy="17.5">意，不得利用甲方库房从事非法活动。</tspan></text><path class="u" d="M2143.3 4473.6H2423"/></g>
<g id="t2f3"><text class="t" x="2152" y="4522.2">3、因使用不当或其它人为原因而使库房或设<tspan x="2152" dy="17.5">备损坏的，乙方负责赔偿或给予修复。</tspan></text><path class="u" d="M2143.3 4550.1H2423"/></g>
<g id="t2f4"><text class="t" x="2152" y="4597.9">4、乙方将对甲方正常的库房检查和维修给予<tspan x="2152" dy="17.5">协助。</tspan></text><path class="u" d="M2143.3 4625.8H2423"/></g>
<g id="t2f5"><text class="t" x="2152" y="4673">5、乙方须在租赁期满时把房产完好交还给甲<tspan x="2152" dy="17.5">方。如需继续承租上述房地产，应提前______</tspan><tspan x="2152" dy="17.5">个月与甲方协商，双方另签订契约。租赁期间</tspan><tspan x="2152" dy="17.5">水、电、煤气、有线电视、电话等由乙方根据</tspan><tspan x="2152" dy="17.5">实际用量付费。</tspan></text><path class="u" d="M2143.3 4753.4H2423"/></g>
<g id="t2g"><text class="t" x="1847.3" y="4800.5">六、违约责任：任何一方未能履行本契约规定<tspan x="1847.3" dy="17.5">的条款，给对方造成损失的由违约方在____日</tspan><tspan x="1847.3" dy="17.5">内负责赔偿，同时支付对方违约金，壹个月房</tspan><tspan x="1847.3" dy="17.5">租费。</tspan></text><path class="u" d="M1838.6 4863.4H2118.9"/></g>
<g id="t2h"><text class="t" x="1847.3" y="4911.3">七、如因不可抗力的原因而使承租库房及其设<tspan x="1847.3" dy="17.5">备损坏的，双方互不承担责任。</tspan></text><path class="u" d="M1838.6 4939.2H2118.9"/></g>
<g id="t2i"><text class="t" x="1847.3" y="4986.3">八、本契约在履行中若发生争议：甲乙双方应<tspan x="1847.3" dy="17.5">采取协商办法解决。协商不成时，任何一方均</tspan><tspan x="1847.3" dy="17.5">可向工商局经济合同仲裁委员会申请调解或仲</tspan><tspan x="1847.3" dy="17.5">裁，也可向有管辖权的人民法院提起诉讼。</tspan></text><path class="u" d="M1838.6 5049.2H2118.9"/></g>
<g id="t2j"><text class="t" x="1847.3" y="5097">九、本契约未尽事项，甲乙双方可另行议定，<tspan x="1847.3" dy="17.5">其补充协议经双方签章后与本契约具有同等效</tspan><tspan x="1847.3" dy="17.5">力。双方约定其它事项：</tspan></text><path class="u" d="M1838.6 5142.4H2118.9"/></g>
<g id="t2k"><text class="t" x="1847.3" y="5190.4">十、在签订本契约时，双方承担中介服务费为<tspan x="1847.3" dy="17.5">_____元，其中甲方付_____元，乙方付_____元</tspan><tspan x="1847.3" dy="17.5">。本契约一式______份，甲乙双方各执______</tspan><tspan x="1847.3" dy="17.5">份。契约副本兄弟房产买卖公司。双方签章后</tspan><tspan x="1847.3" dy="17.5">生效。本契约期满自行作废。</tspan></text><path class="u" d="M1838.6 5270.8H2118.9"/></g>
<g id="t3"><text class="t" x="1769" y="5319.4">甲方（签章）：</text><path class="u" d="M1761.4 5329.8H1867.6"/></g>
<g id="t4"><text class="t" x="1769" y="5376.8">乙方（签章）：</text><path class="u" d="M1761.4 5387.2H1867.6"/></g>
<g id="t5"><text class="t" x="1769" y="5436.6">日期：</text><path class="u" d="M1761.4 5447H1814.2"/></g>

<g id="watermark">
<text class="wm" transform="translate(340 830) rotate(-35)">树图 shutu.cn</text>
<text class="wm" transform="translate(340 1800) rotate(-35)">树图 shutu.cn</text>
<text class="wm" transform="translate(340 2770) rotate(-35)">树图 shutu.cn</text>
<text class="wm" transform="translate(340 3740) rotate(-35)">树图 shutu.cn</text>
<text class="wm" transform="translate(340 4710) rotate(-35)">树图 shutu.cn</text>
<text class="wm" transform="translate(340 5680) rotate(-35)">树图 shutu.cn</text>
<text class="wm" transform="translate(1620 720) rotate(-35)">树图 shutu.cn</text>
<text class="wm" transform="translate(1620 1700) rotate(-35)">树图 shutu.cn</text>
<text class="wm" transform="translate(1620 2690) rotate(-35)">树图 shutu.cn</text>
<text class="wm" transform="translate(1620 3700) rotate(-35)">树图 shutu.cn</text>
<text class="wm" transform="translate(1620 4705) rotate(-35)">树图 shutu.cn</text>
<text class="wm" transform="translate(1620 5715) rotate(-35)">树图 shutu.cn</text>
</g>
</g>
</svg>
